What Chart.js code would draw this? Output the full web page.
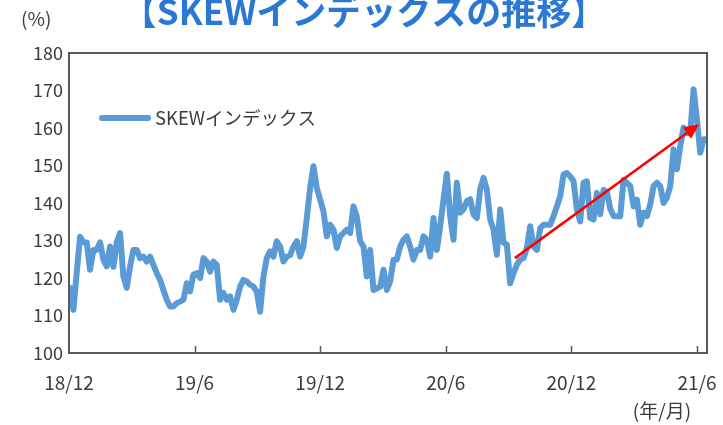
<!DOCTYPE html>
<html>
<head>
<meta charset="utf-8">
<script src="https://cdn.jsdelivr.net/npm/chart.js@4.4.0/dist/chart.umd.min.js"></script>
<style>
  html, body { margin: 0; padding: 0; background: #fff; }
  #wrap { width: 723px; height: 425px; }
</style>
</head>
<body>
<div id="wrap"><canvas id="skewChart" width="723" height="425"></canvas></div>
<script>
// months counted from 2018/12
const tickMonths = [0, 6, 12, 18, 24, 30];
const tickLabels = ['18/12', '19/6', '19/12', '20/6', '20/12', '21/6'];

const sampleStart = 0.05;
const sampleStep = 0.1593;
const skew = [
  117.4, 111.5, 121.4, 131, 129.5, 129.5, 122.2, 127.5, 127.5, 129.5, 124.9, 123.1, 128.4, 123, 129.5, 132,
  120.4, 117.4, 123.1, 127.5, 127.5, 125.3, 125.7, 124.4, 125.7, 123.5, 121.3, 119.5, 116.8, 114.2, 112.4, 112.4,
  113.3, 113.7, 114.2, 118.6, 116.4, 120.9, 121.3, 120, 125.3, 124.4, 121.7, 124.4, 123.5, 114.2, 116, 114.2,
  115.1, 111.5, 114.2, 117.7, 119.5, 119.1, 118.2, 117.7, 116.4, 111, 120.4, 125.3, 127.1, 125.7, 129.8, 128.4, 124.4,
  125.7, 126.1, 128.4, 129.8, 125.7, 128.4, 136, 144, 149.8, 144, 140.9, 137.8, 131.1, 134.2, 132.9, 128,
  131.1, 132, 132.9, 132, 139.1, 136.4, 129.8, 128.4, 120.4, 127.5, 116.8, 117.2, 117.7, 122.2, 116.8, 119.1, 124.9,
  124.9, 128.4, 130.2, 131.1, 128.4, 124.9, 127.5, 127.5, 131.1, 130.2, 125.7, 136, 127.5, 133.8, 140.9, 147.8,
  136.5, 130.2, 145.4, 137.4, 138.3, 140.5, 141, 136.9, 136, 143.6, 146.7, 143.6, 135.6, 132.9, 126.2, 138.3, 129.4,
  128.9, 118.6, 121.3, 123.5, 124.9, 125.3, 128, 133.8, 128.4, 127.5, 133.3, 134.2, 134.2, 134.2, 136.5, 139.1,
  141.8, 147.6, 148, 147.1, 145.8, 138.3, 135.1, 145.4, 145.8, 136, 135.6, 142.7,
  137, 143.5, 143, 138.5, 136.5,
  136.5, 136.5, 146.2, 145.4, 144.5, 139.1, 140.9, 134.2, 137.4, 136.5, 139.6, 144.5, 145.4, 144.5, 140, 141.4,
  144.5, 154.3, 149, 155.2, 160.1, 158.7, 158.7, 170.3, 162.3, 153.4, 157, 157
];

// trend arrow, in data units [month, value]
const arrowFrom = [21.3, 125.3];
const arrowTo = [30.1, 161];

const FONT = '"Noto Sans CJK JP", "Noto Sans", sans-serif';
const TEXT = '#3c3c3c';
const AXIS = '#5a5a5a';
const BLUE = '#5b9bd5';

const points = skew.map((v, i) => ({ x: sampleStart + i * sampleStep, y: v }));

const decorations = {
  id: 'decorations',
  afterDatasetsDraw(chart) {
    const { ctx, chartArea: a, scales: { x, y } } = chart;
    ctx.save();
    // frame
    ctx.strokeStyle = AXIS;
    ctx.lineWidth = 2;
    ctx.strokeRect(a.left, a.top, a.right - a.left, a.bottom - a.top);
    // inward x ticks
    ctx.lineWidth = 1.5;
    tickMonths.forEach(m => {
      if (m === 0) return;
      const px = Math.round(x.getPixelForValue(m)) + 0.5;
      ctx.beginPath();
      ctx.moveTo(px, a.bottom);
      ctx.lineTo(px, a.bottom - 7);
      ctx.stroke();
    });
    // arrow
    const x1 = x.getPixelForValue(arrowFrom[0]), y1 = y.getPixelForValue(arrowFrom[1]);
    const x2 = x.getPixelForValue(arrowTo[0]), y2 = y.getPixelForValue(arrowTo[1]);
    const ang = Math.atan2(y2 - y1, x2 - x1);
    const head = 15, half = 7;
    const bx = x2 - head * Math.cos(ang), by = y2 - head * Math.sin(ang);
    ctx.strokeStyle = '#ff0000';
    ctx.fillStyle = '#ff0000';
    ctx.lineWidth = 2.5;
    ctx.beginPath();
    ctx.moveTo(x1, y1);
    ctx.lineTo(bx, by);
    ctx.stroke();
    ctx.beginPath();
    ctx.moveTo(x2, y2);
    ctx.lineTo(bx + half * Math.sin(ang), by - half * Math.cos(ang));
    ctx.lineTo(bx - half * Math.sin(ang), by + half * Math.cos(ang));
    ctx.closePath();
    ctx.fill();
    ctx.restore();
  },
  afterDraw(chart) {
    const { ctx } = chart;
    const ds = chart.data.datasets[0];
    ctx.save();
    // title
    ctx.fillStyle = '#2a78d4';
    ctx.font = 'bold 35px ' + FONT;
    ctx.textAlign = 'center';
    ctx.textBaseline = 'alphabetic';
    ctx.fillText('【SKEWインデックスの推移】', 364, 25);
    // units
    ctx.fillStyle = TEXT;
    ctx.font = '19px ' + FONT;
    ctx.textBaseline = 'middle';
    ctx.textAlign = 'left';
    ctx.fillText('(%)', 21, 19);
    ctx.textAlign = 'center';
    ctx.fillText('(年/月)', 662, 411);
    // legend
    ctx.strokeStyle = ds.borderColor;
    ctx.lineWidth = 6;
    ctx.lineCap = 'round';
    ctx.beginPath();
    ctx.moveTo(102, 118);
    ctx.lineTo(148, 118);
    ctx.stroke();
    ctx.textAlign = 'left';
    ctx.font = '18.5px ' + FONT;
    ctx.fillText(ds.label, 155, 118);
    ctx.restore();
  }
};

new Chart(document.getElementById('skewChart'), {
  type: 'line',
  data: {
    datasets: [{
      label: 'SKEWインデックス',
      data: points,
      borderColor: BLUE,
      borderWidth: 6,
      borderJoinStyle: 'round',
      borderCapStyle: 'round',
      pointRadius: 0,
      tension: 0,
      fill: false
    }]
  },
  options: {
    responsive: false,
    animation: false,
    devicePixelRatio: 1,
    layout: { padding: { top: 53, right: 16, left: 0, bottom: 0 } },
    plugins: { legend: { display: false }, tooltip: { enabled: false } },
    scales: {
      x: {
        type: 'linear',
        min: 0,
        max: 30.48,
        afterBuildTicks: s => { s.ticks = tickMonths.map(v => ({ value: v })); },
        afterFit: s => { s.height = 72; s.paddingLeft = 0; s.paddingRight = 0; },
        grid: { display: false, drawTicks: false },
        border: { display: false },
        ticks: {
          callback: v => tickLabels[tickMonths.indexOf(v)],
          font: { family: FONT, size: 19 },
          color: TEXT,
          padding: 18,
          maxRotation: 0,
          autoSkip: false
        }
      },
      y: {
        min: 100,
        max: 180,
        afterFit: s => { s.width = 69; s.paddingTop = 0; s.paddingBottom = 0; },
        grid: { display: false, drawTicks: false },
        border: { display: false },
        ticks: {
          stepSize: 10,
          font: { family: FONT, size: 18 },
          color: TEXT,
          padding: 6
        }
      }
    }
  },
  plugins: [decorations]
});
</script>
</body>
</html>
